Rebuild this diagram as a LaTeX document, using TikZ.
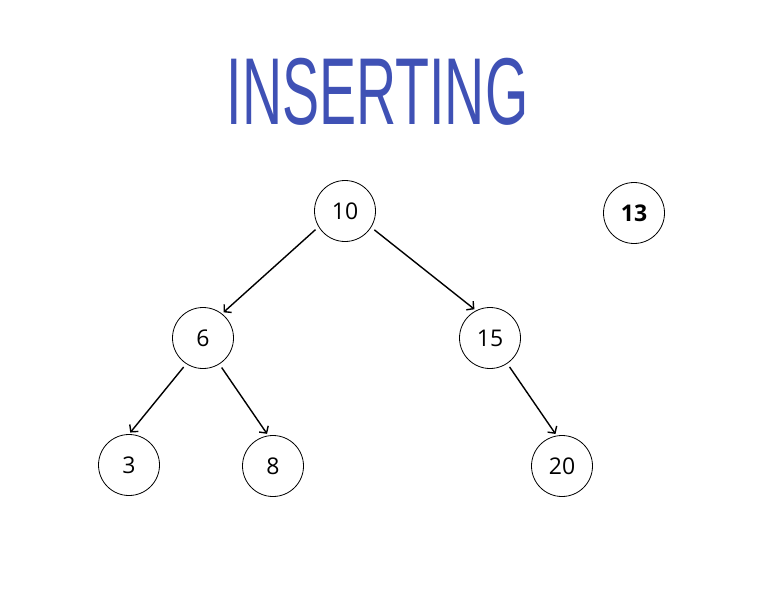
\documentclass[tikz,border=0pt]{standalone}
\usepackage{fontspec}
\usepackage{graphicx}
\setmainfont{Open Sans}
\newfontfamily\titlefont{Liberation Sans}
\usetikzlibrary{arrows.meta,positioning}
\definecolor{titleblue}{RGB}{63,81,181}

\begin{document}
\begin{tikzpicture}[x=1pt, y=-1pt,
    key/.style={circle, draw=black, line width=0.8pt, minimum size=61pt, inner sep=0pt,
                text centered, font=\fontsize{23}{26}\selectfont},
    link/.style={-{Straight Barb[length=5pt, width=11pt]}, line width=1.4pt,
                 shorten <=4pt, shorten >=2pt}
]
\useasboundingbox (0,0) rectangle (759,596);

% Title
\node[anchor=base, text=titleblue, inner sep=0pt] (title) at (377.5,125)
    {\titlefont\fontsize{95}{100}\selectfont\scalebox{0.585}[1]{INSERTING}};

% Keys
\node[key] (k10) at (345,211) {10};
\node[key, font=\fontsize{23}{26}\selectfont\bfseries] (k13) at (634,213) {13};
\node[key] (k6) at (203,338) {6};
\node[key] (k15) at (490,338) {15};
\node[key] (k3) at (129,465) {3};
\node[key] (k8) at (273,466) {8};
\node[key] (k20) at (562,466) {20};

% Links
\draw[link] (k10.211) -- (k6.52);
\draw[link] (k10.328) -- (k15.117);
\draw[link] (k6.237) -- (k3.90);
\draw[link] (k6.302) -- (k8.99);
\draw[link] (k15.304) -- (k20.100);

\end{tikzpicture}
\end{document}
